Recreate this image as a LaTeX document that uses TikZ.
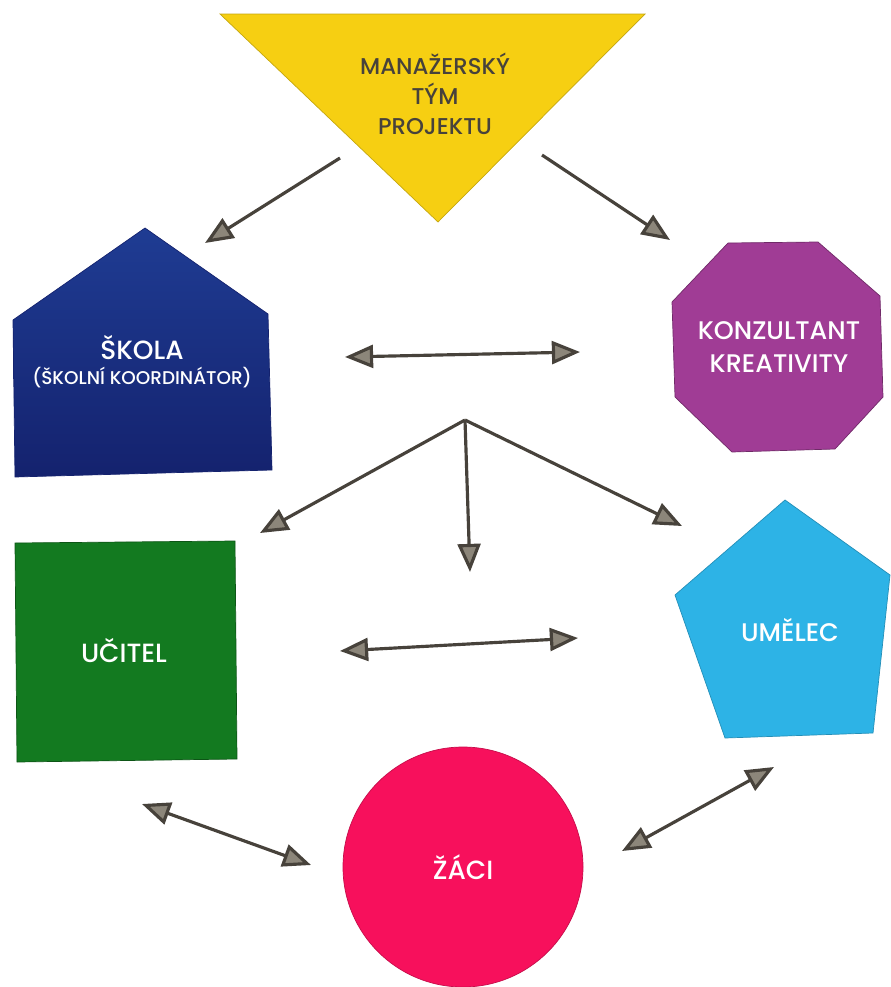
\documentclass[tikz,border=0pt]{standalone}
\usepackage{fontspec}
\setmainfont{Poppins}[UprightFont={* Medium}]
\usetikzlibrary{arrows.meta}

\definecolor{tymyellow}{HTML}{F6CF12}
\definecolor{skolablue}{HTML}{1F3C93}
\definecolor{skoladark}{HTML}{14226E}
\definecolor{konzpurple}{HTML}{A03C95}
\definecolor{ucitgreen}{HTML}{137A20}
\definecolor{umelcyan}{HTML}{2DB3E6}
\definecolor{zacipink}{HTML}{F7105C}
\definecolor{arrline}{HTML}{47423B}
\definecolor{arrhead}{HTML}{8C867A}

\begin{document}
\begin{tikzpicture}[x=0.02cm,y=-0.02cm,
    arr/.style={draw=arrline,line width=1.8pt,
      -{Triangle[length=16pt,width=13pt,fill=arrhead]}},
    darr/.style={arr,{Triangle[length=16pt,width=13pt,fill=arrhead]}-{Triangle[length=16pt,width=13pt,fill=arrhead]}},
    lbl/.style={align=center,text=white,font=\fontsize{14.5}{19}\selectfont}]
        \useasboundingbox (0,0) rectangle (890,987);

        % Shapes.
        \draw [fill=tymyellow,draw=tymyellow!80!black,thin] (220,14) -- (645,14) -- (438,222) -- cycle; % Manazersky tym.
        \draw [top color=skolablue,bottom color=skoladark,draw=skoladark,thin]
          (145,228) -- (268,314) -- (272,470) -- (15,477) -- (13,320) -- cycle; % Skola.
        \draw [fill=konzpurple,draw=konzpurple!70!black,thin]
          (728,243) -- (818,242) -- (880,296) -- (883,397) -- (835,449) -- (732,452) -- (675,397) -- (672,302) -- cycle; % Konzultant.
        \draw [fill=ucitgreen,draw=ucitgreen!70!black,thin] (15,543) -- (235,541) -- (237,759) -- (17,762) -- cycle; % Ucitel.
        \draw [fill=umelcyan,draw=umelcyan!80!black,thin]
          (785,500) -- (890,575) -- (873,733) -- (725,738) -- (675,595) -- cycle; % Umelec.
        \draw [fill=zacipink,draw=zacipink!80!black,thin] (463,867) circle (120); % Zaci.

        % Labels.
        \node [lbl,text=arrline,font=\fontsize{13}{17}\selectfont] (tym) at (435,94) {MANAŽERSKÝ\\TÝM\\PROJEKTU};
        \node [lbl,font=\fontsize{15}{18}\selectfont] (skola) at (142,348) {ŠKOLA};
        \node [lbl,font=\fontsize{10.5}{12}\selectfont] (koord) at (142,378) {(ŠKOLNÍ KOORDINÁTOR)};
        \node [lbl] (konz) at (779,347) {KONZULTANT\\KREATIVITY};
        \node [lbl,font=\fontsize{15}{18}\selectfont] (ucitel) at (124,651) {UČITEL};
        \node [lbl] (umelec) at (790,630) {UMĚLEC};
        \node [lbl,font=\fontsize{15}{18}\selectfont] (zaci) at (463,867) {ŽÁCI};

        % Arrow ends.
        \coordinate (tymL) at (340,158);
        \coordinate (tymR) at (542,155);
        \coordinate (skolaA) at (205,243);
        \coordinate (konzA) at (670,240);
        \coordinate (midL) at (345,357);
        \coordinate (midR) at (580,352);
        \coordinate (fan) at (465,420);
        \coordinate (fanL) at (260,533);
        \coordinate (fanD) at (470,572);
        \coordinate (fanR) at (682,526);
        \coordinate (lowL) at (340,651);
        \coordinate (lowR) at (578,638);
        \coordinate (ucitA) at (142,804);
        \coordinate (zaciL) at (311,865);
        \coordinate (zaciR) at (622,851);
        \coordinate (umelA) at (774,767);

        % Arrows.
        \draw [arr] (tymL) -- (skolaA);
        \draw [arr] (tymR) -- (konzA);
        \draw [darr] (midL) -- (midR);
        \draw [arr] (fan) -- (fanL);
        \draw [arr] (fan) -- (fanD);
        \draw [arr] (fan) -- (fanR);
        \draw [darr] (lowL) -- (lowR);
        \draw [darr] (ucitA) -- (zaciL);
        \draw [darr] (zaciR) -- (umelA);
      \end{tikzpicture}
\end{document}
